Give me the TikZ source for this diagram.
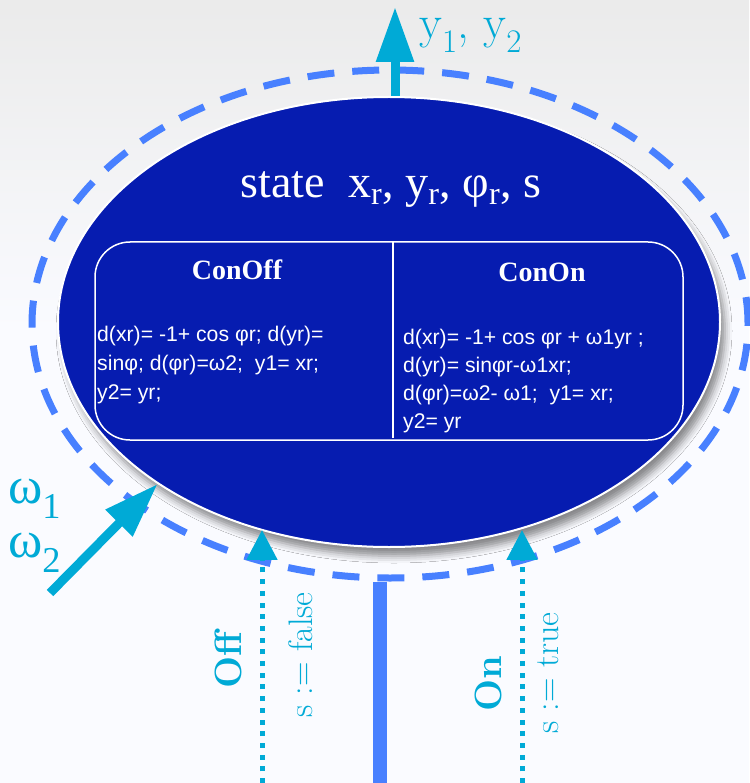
\documentclass[tikz,border=0pt]{standalone}
\usepackage{fontspec}
\newfontfamily\tnr{Liberation Serif}
\newfontfamily\arl{Liberation Sans}
\usetikzlibrary{shapes.geometric,arrows.meta,shadows.blur}
\definecolor{navy}{RGB}{6,28,176}
\definecolor{dashblue}{RGB}{72,128,255}
\definecolor{cyanc}{RGB}{0,170,214}
\definecolor{bgc}{RGB}{250,251,255}
\begin{document}
\begin{tikzpicture}[x=1pt,y=-1pt,
  stateell/.style={ellipse, fill=navy, draw=white, line width=2pt, minimum width=662pt, minimum height=450pt, inner sep=0pt,
    blur shadow={shadow xshift=5pt, shadow yshift=-9pt, shadow blur radius=7pt, shadow opacity=45}},
  envell/.style={ellipse, draw=dashblue, line width=7pt, dash pattern=on 27pt off 18pt, minimum width=716pt, minimum height=508pt, inner sep=0pt},
  modebox/.style={draw=white, line width=1.5pt, rounded corners=35pt, minimum width=588pt, minimum height=198pt, inner sep=0pt},
  modetitle/.style={text=white, font=\tnr\bfseries\fontsize{28}{32}\selectfont},
  eqtext/.style={text=white, font=\arl\fontsize{21.2}{29}\selectfont, align=left, inner sep=0pt, anchor=north west},
  bigarrow/.style={cyanc, line width=9pt, -{Triangle[length=55pt,width=36pt]}},
  dotarrow/.style={cyanc, line width=5pt, dash pattern=on 5pt off 6.7pt, -{Triangle[length=30pt,width=30pt]}},
  sidelabel/.style={rotate=90, text=cyanc, font=\fontsize{34}{38}\selectfont},
  sidebold/.style={rotate=90, text=cyanc, font=\bfseries\fontsize{38}{42}\selectfont},
  greeklabel/.style={text=cyanc, font=\tnr\fontsize{52}{56}\selectfont, anchor=base west, inner sep=0pt}]
\useasboundingbox (0,0) rectangle (749,783);
\fill[bgc] (0,0) rectangle (749,783);
\shade[top color=black!8, bottom color=bgc] (0,0) rectangle (749,330);
% environment and state
\node[envell] (env) at (390,324) {};
\node[stateell] (st) at (389,322) {};
\node[text=white, font=\tnr\fontsize{46}{50}\selectfont, anchor=base] (title) at (391,198)
  {state\ \ x\textsubscript{r}, y\textsubscript{r}, φ\textsubscript{r}, s};
\node[modebox] (box) at (389,341) {};
\coordinate (divx) at (393,0);
\draw[white, line width=1.2pt] (box.north -| divx) -- ([yshift=3pt]box.south -| divx);
\node[modetitle] (off) at (237,270) {ConOff};
\node[modetitle] (on) at (542,272) {ConOn};
\node[eqtext] (eqoff) at (97,326) {d(xr)= -1+ cos φr; d(yr)=\\sinφ; d(φr)=ω2;\ \ y1= xr;\\y2= yr;};
\node[eqtext] (eqon) at (403,329) {d(xr)= -1+ cos φr + ω1yr ;\\[-1pt]d(yr)= sinφr-ω1xr;\\[-1pt]d(φr)=ω2- ω1;\ \ y1= xr;\\[-1pt]y2= yr};
% output arrow
\coordinate (ytip) at (395,7);
\draw[bigarrow] (st.north -| ytip) -- (ytip);
\node[text=cyanc, font=\fontsize{47}{51}\selectfont, anchor=base west, inner sep=0pt] (ylab) at (419,39) {y\textsubscript{1}, y\textsubscript{2}};
% input arrow
\coordinate (wstart) at (50,593);
\draw[bigarrow] (wstart) -- (st.215);
\node[greeklabel] (w1) at (8,503) {ω\textsubscript{1}};
\node[greeklabel] (w2) at (8,557) {ω\textsubscript{2}};
% mode switches
\coordinate (offbot) at (262,783);
\coordinate (onbot) at (522,783);
\coordinate (thb) at (380,783);
\draw[dotarrow] (offbot) -- (offbot |- st.238.6);
\draw[dotarrow] (onbot) -- (onbot |- st.302);
\draw[dashblue, line width=14pt] (thb |- env.south) -- (thb);
\node[sidebold] (offl) at (228,660) {Off};
\node[sidelabel] (sfalse) at (301,655) {s := false};
\node[sidebold] (onl) at (488,684) {On};
\node[sidelabel] (strue) at (548,673) {s := true};
\end{tikzpicture}
\end{document}
